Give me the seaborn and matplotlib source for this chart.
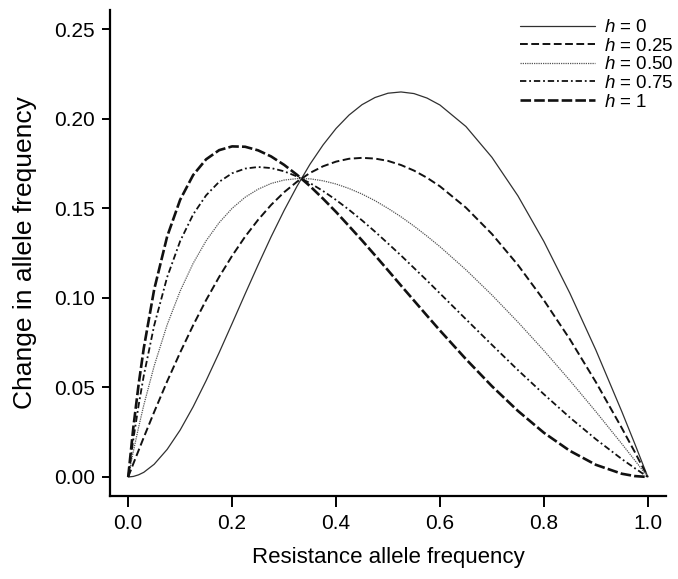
import matplotlib
matplotlib.use("Agg")
import matplotlib.pyplot as plt
import seaborn as sns

# ---------------------------------------------------------------
# data
# ---------------------------------------------------------------
P = [0, 0.01, 0.02, 0.03, 0.05, 0.075, 0.10, 0.125, 0.15, 0.175, 0.20, 0.225,
     0.25, 0.275, 0.30, 0.325, 0.35, 0.375, 0.40, 0.425, 0.45, 0.475, 0.50,
     0.525, 0.55, 0.575, 0.60, 0.65, 0.70, 0.75, 0.80, 0.85, 0.90, 0.95, 0.975, 1.0]

DP_H0 = [0, 0.0003, 0.0012, 0.0026, 0.0071, 0.0154, 0.0262, 0.0392, 0.0538, 0.0694,
         0.0857, 0.1022, 0.1184, 0.1341, 0.1488, 0.1624, 0.1747, 0.1854, 0.1946,
         0.2021, 0.2079, 0.2119, 0.2143, 0.2150, 0.2141, 0.2116, 0.2077, 0.1957,
         0.1785, 0.1570, 0.1315, 0.1026, 0.0709, 0.0365, 0.0185, 0]
DP_H025 = [0, 0.0075, 0.0148, 0.0221, 0.0363, 0.0534, 0.0695, 0.0847, 0.0988, 0.1117,
           0.1235, 0.1342, 0.1436, 0.1519, 0.1590, 0.1649, 0.1698, 0.1735, 0.1761,
           0.1777, 0.1782, 0.1778, 0.1765, 0.1742, 0.1711, 0.1671, 0.1623, 0.1504,
           0.1357, 0.1184, 0.0987, 0.0769, 0.0530, 0.0273, 0.0139, 0]
DP_H050 = [0, 0.0144, 0.0277, 0.0401, 0.0620, 0.0850, 0.1038, 0.1193, 0.1319, 0.1420,
           0.1500, 0.1562, 0.1607, 0.1639, 0.1658, 0.1666, 0.1665, 0.1654, 0.1636,
           0.1611, 0.1580, 0.1543, 0.1500, 0.1453, 0.1401, 0.1345, 0.1286, 0.1157,
           0.1016, 0.0865, 0.0706, 0.0539, 0.0365, 0.0185, 0.0093, 0]
DP_H075 = [0, 0.0212, 0.0399, 0.0566, 0.0846, 0.1116, 0.1317, 0.1466, 0.1573, 0.1648,
           0.1696, 0.1722, 0.1731, 0.1725, 0.1707, 0.1678, 0.1641, 0.1597, 0.1547,
           0.1492, 0.1433, 0.1370, 0.1304, 0.1237, 0.1167, 0.1097, 0.1025, 0.0881,
           0.0738, 0.0597, 0.0462, 0.0332, 0.0211, 0.0100, 0.0049, 0]
DP_H1 = [0, 0.0278, 0.0515, 0.0719, 0.1047, 0.1343, 0.1548, 0.1686, 0.1774, 0.1825,
         0.1846, 0.1844, 0.1824, 0.1790, 0.1743, 0.1687, 0.1624, 0.1554, 0.1480,
         0.1401, 0.1321, 0.1238, 0.1154, 0.1069, 0.0985, 0.0901, 0.0818, 0.0658,
         0.0507, 0.0369, 0.0247, 0.0146, 0.0068, 0.0018, 0.0005, 0]

LABELS = ["$h$ = 0", "$h$ = 0.25", "$h$ = 0.50", "$h$ = 0.75", "$h$ = 1"]
X_TICKS = [0.0, 0.2, 0.4, 0.6, 0.8, 1.0]
Y_TICKS = [0.00, 0.05, 0.10, 0.15, 0.20, 0.25]

# ---------------------------------------------------------------
# style
# ---------------------------------------------------------------
sns.set_style("ticks")
plt.rcParams["font.family"] = ["Liberation Sans", "DejaVu Sans"]
plt.rcParams["mathtext.fontset"] = "custom"
plt.rcParams["mathtext.rm"] = "Liberation Sans"
plt.rcParams["mathtext.it"] = "Liberation Sans:italic"

series = [DP_H0, DP_H025, DP_H050, DP_H075, DP_H1]
styles = [
    dict(linestyle="-", linewidth=0.9, color="#303030"),
    dict(linestyle=(0, (4, 1.8)), linewidth=1.4, color="#111111"),
    dict(linestyle=(0, (1, 0.8)), linewidth=0.9, color="#555555"),
    dict(linestyle=(0, (3.5, 1.6, 1, 1.6)), linewidth=1.3, color="#111111"),
    dict(linestyle=(0, (4, 1.2)), linewidth=1.9, color="#111111"),
]

fig = plt.figure(figsize=(6.78, 5.79), dpi=100)
ax = fig.add_axes([110 / 678, 1 - 495.6 / 579, 556 / 678, 485.3 / 579])

for y, lab, st in zip(series, LABELS, styles):
    sns.lineplot(x=P, y=y, ax=ax, label=lab, **st)

ax.set_xlim(-0.035, 1.035)
ax.set_ylim(-0.0104, 0.2606)
ax.set_xticks(X_TICKS)
ax.set_xticklabels([f"{v:.1f}" for v in X_TICKS])
ax.set_yticks(Y_TICKS)
ax.set_yticklabels([f"{v:.2f}" for v in Y_TICKS])

sns.despine(ax=ax)
for side in ["left", "bottom"]:
    ax.spines[side].set_linewidth(1.6)
    ax.spines[side].set_color("black")
ax.tick_params(axis="both", direction="out", width=1.4, colors="black", labelsize=15)
ax.tick_params(axis="y", length=6, pad=5)
ax.tick_params(axis="x", length=8, pad=5)

ax.set_xlabel("Resistance allele frequency", fontsize=16, labelpad=10, color="black")
ax.set_ylabel("Change in allele frequency", fontsize=19, labelpad=12, color="black")

leg = ax.legend(loc="upper left", bbox_to_anchor=(520 / 678, 1 - 19 / 579),
                bbox_transform=fig.transFigure, frameon=False, fontsize=13.5,
                handlelength=4.0, handletextpad=0.5, labelspacing=0.08,
                borderpad=0, borderaxespad=0)
for t in leg.get_texts():
    t.set_color("black")

fig.savefig("out.png", dpi=100)
